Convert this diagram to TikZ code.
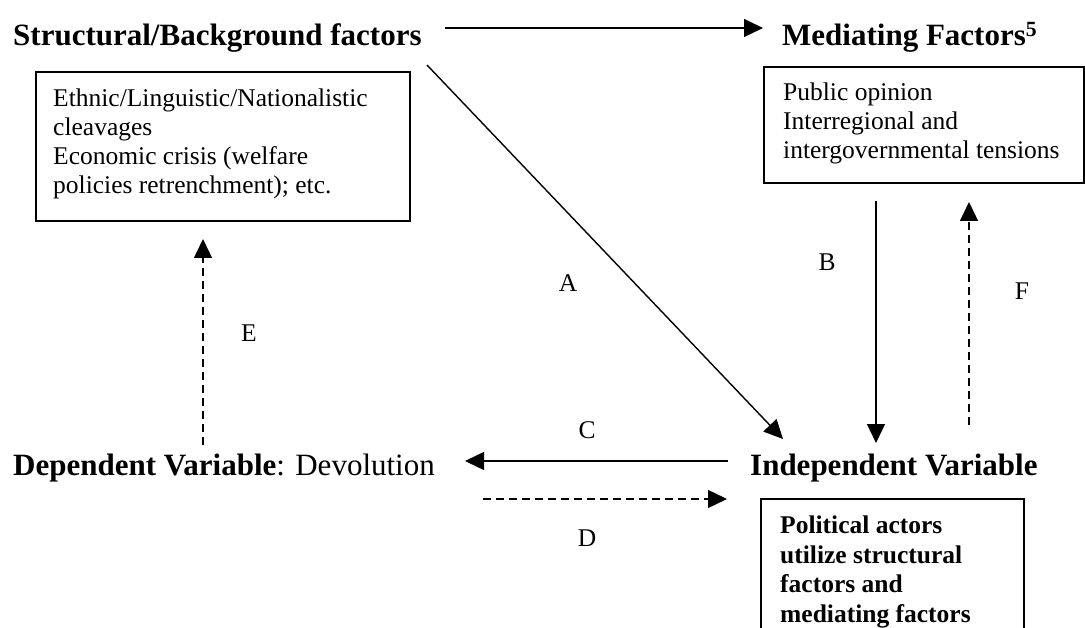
\documentclass[tikz,border=0pt]{standalone}
\usepackage{fontspec}
\setmainfont{Liberation Serif}
\usetikzlibrary{arrows.meta}
\begin{document}
\begin{tikzpicture}[x=1pt,y=-1pt,
  title/.style={font=\fontsize{31}{36}\selectfont\bfseries, inner sep=0pt, anchor=base west},
  heading/.style={font=\fontsize{31}{36}\selectfont, inner sep=0pt, anchor=base west},
  body/.style={font=\fontsize{25.5}{29}\selectfont, inner sep=0pt, anchor=base west, align=left},
  boldbody/.style={body, font=\fontsize{25.5}{29.5}\selectfont\bfseries},
  lab/.style={font=\fontsize{25.5}{29.5}\selectfont, inner sep=0pt},
  box/.style={draw, line width=1.6pt, inner sep=0pt, anchor=north west},
  arr/.style={line width=1.4pt, -{Triangle[length=19pt,width=18pt]}},
  dsh/.style={arr, dash pattern=on 8pt off 5pt}]
\useasboundingbox (0,0) rectangle (1085,628);
\clip (0,0) rectangle (1085,628);

% headings
\node[title] (struct) at (13,46) {Structural/Background factors};
\node[title] (med) at (782,46) {Mediating Factors\textsuperscript{5}};
\node[heading] (dep) at (13,475) {\bfseries Dependent Variable\mdseries: Devolution};
\node[title] (indep) at (750,475) {Independent Variable};

% boxes
\node[box, minimum width=374pt, minimum height=149pt] (sbox) at (35,71) {};
\node[body] (stext) at (53,194) {Ethnic/Linguistic/Nationalistic\\cleavages\\Economic crisis (welfare\\policies retrenchment); etc.};

\node[box, minimum width=320pt, minimum height=116pt] (mbox) at (763,66) {};
\node[body] (mtext) at (783,159) {Public opinion\\Interregional and\\intergovernmental tensions};

\node[box, minimum width=263pt, minimum height=160pt] (ibox) at (760,498) {};
\node[boldbody] (itext) at (780,622) {Political actors\\utilize structural\\factors and\\mediating factors};

% connector end points
\coordinate (top1) at (445,28);
\coordinate (top2) at (763,28);
\coordinate (a1) at (427,65);
\coordinate (a2) at (783,439);
\coordinate (b1) at (876,201);
\coordinate (b2) at (876,443);
\coordinate (f1) at (969,425);
\coordinate (f2) at (969,202);
\coordinate (e1) at (203,445);
\coordinate (e2) at (203,239);
\coordinate (c1) at (728,461);
\coordinate (c2) at (465,461);
\coordinate (d1) at (483,499);
\coordinate (d2) at (727,499);

\draw[arr] (top1) -- (top2);
\draw[arr] (a1) -- (a2);
\draw[arr] (b1) -- (b2);
\draw[dsh] (f1) -- (f2);
\draw[dsh] (e1) -- (e2);
\draw[arr] (c1) -- (c2);
\draw[dsh] (d1) -- (d2);

% labels
\node[lab] (la) at (568,283) {A};
\node[lab] (lb) at (827,262) {B};
\node[lab] (lc) at (587,430) {C};
\node[lab] (ld) at (587,538) {D};
\node[lab] (le) at (249,333) {E};
\node[lab] (lf) at (1022,291) {F};
\end{tikzpicture}
\end{document}
